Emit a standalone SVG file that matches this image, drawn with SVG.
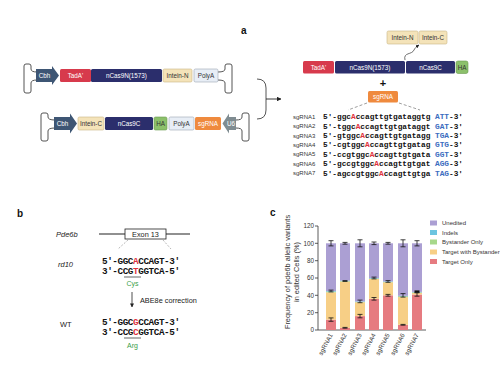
<svg xmlns="http://www.w3.org/2000/svg" width="500" height="381" viewBox="0 0 500 381">
<defs>
<style>
.sans{font-family:"Liberation Sans",Arial,sans-serif}
.lbl{font-family:"Liberation Sans",Arial,sans-serif;font-size:6.3px;text-anchor:middle}
.w{fill:#fff}
.d{fill:#333}
.navy{fill:#2b2e6c}
.red{fill:#d73a4c}
.beige{fill:#f4e3b9;stroke:#c9b585;stroke-width:0.6}
.polya{fill:#e8eef6;stroke:#9aa4b2;stroke-width:0.6}
.ha{fill:#8cc06b;stroke:#6a9a4f;stroke-width:0.6}
.sg{fill:#ef8a3e}
.cbh{fill:#3e5674}
.u6{fill:#7f8c91}
.br{fill:none;stroke:#555;stroke-width:1}
.seq{font-family:"Liberation Mono","Courier New",monospace;font-weight:bold;font-size:7.8px;fill:#111}
.seqb{font-family:"Liberation Mono","Courier New",monospace;font-weight:bold;font-size:9.3px;fill:#111}
.sgl{font-family:"Liberation Sans",Arial,sans-serif;font-size:6px;fill:#333}
.A{fill:#e0313d}
.P{fill:#3b6cc0}
.gr{fill:#3aa04a}
.panel{font-family:"Liberation Sans",Arial,sans-serif;font-weight:bold;font-size:10px;fill:#111}
.tick{font-family:"Liberation Sans",Arial,sans-serif;font-size:6.3px;fill:#333;text-anchor:end}
.ax{stroke:#333;stroke-width:0.8;fill:none}
.eb{stroke:#111;stroke-width:0.8;fill:none}
.un{fill:#ab9fd3}
.ind{fill:#6cc4e0}
.by{fill:#a7d88b}
.twb{fill:#f7cf86}
.to{fill:#e67b80}
.leg{font-family:"Liberation Sans",Arial,sans-serif;font-size:6px;fill:#333}
</style>
<marker id="ah" viewBox="0 0 10 10" refX="9" refY="5" markerWidth="5" markerHeight="5" orient="auto"><path d="M0,0 L10,5 L0,10 z" fill="#222"/></marker>
</defs>
<rect width="500" height="381" fill="#fff"/>

<text class="panel" x="241" y="34">a</text>
<text class="panel" x="17" y="217">b</text>
<text class="panel" x="270" y="216">c</text>

<!-- Construct 1 -->
<g id="construct1">
<path class="br" d="M37,72 Q31,72 31,69 V66 Q31,64 29,64 H26 Q24,64 24,66 V91 Q24,93 26,93 H29 Q31,93 31,91 V83 Q31,80 37,80"/>
<path class="br" d="M218,72 Q225,72 225,69 V66 Q225,64 227,64 H230 Q232,64 232,66 V91 Q232,93 230,93 H227 Q225,93 225,91 V83 Q225,80 218,80"/>
<polygon class="cbh" points="36,69 52,69 52,66 59,75.5 52,85 52,82 36,82"/>
<text class="lbl w" x="44.5" y="77.8">Cbh</text>
<rect class="red" x="60" y="69" width="31" height="13" rx="1.5"/>
<text class="lbl w" x="75.5" y="77.8">TadA'</text>
<rect class="navy" x="91" y="69" width="71" height="13" rx="1.5"/>
<text class="lbl w" x="126.5" y="77.8">nCas9N(1573)</text>
<rect class="beige" x="163" y="69" width="29" height="13" rx="1.5"/>
<text class="lbl d" x="177.5" y="77.8">Intein-N</text>
<rect class="polya" x="194" y="69" width="24" height="13" rx="1.5"/>
<text class="lbl d" x="206" y="77.8">PolyA</text>
</g>

<!-- Construct 2 -->
<g id="construct2">
<path class="br" d="M55,120 Q48,120 48,117 V115 Q48,113 46,113 H43 Q41,113 41,115 V139 Q41,141 43,141 H46 Q48,141 48,139 V131 Q48,128 55,128"/>
<path class="br" d="M236,120 Q242,120 242,117 V115 Q242,113 244,113 H247 Q249,113 249,115 V139 Q249,141 247,141 H244 Q242,141 242,139 V131 Q242,128 236,128"/>
<polygon class="cbh" points="54,117 70,117 70,113.5 77,123.5 70,133.5 70,130 54,130"/>
<text class="lbl w" x="62.5" y="125.8">Cbh</text>
<rect class="beige" x="78" y="117" width="26" height="13" rx="1.5"/>
<text class="lbl d" x="91" y="125.8">Intein-C</text>
<rect class="navy" x="105" y="117" width="48" height="13" rx="1.5"/>
<text class="lbl w" x="129" y="125.8">nCas9C</text>
<rect class="ha" x="154" y="117" width="13" height="13" rx="1.5"/>
<text class="lbl d" x="160.5" y="125.8">HA</text>
<rect class="polya" x="169" y="117" width="25" height="13" rx="1.5"/>
<text class="lbl d" x="181.5" y="125.8">PolyA</text>
<rect class="sg" x="195" y="117" width="26" height="13" rx="1.5"/>
<text class="lbl w" x="208" y="125.8">sgRNA</text>
<polygon class="u6" points="236,117 229,117 229,113.5 222.5,123.5 229,133.5 229,130 236,130"/>
<text class="lbl w" x="231" y="125.8">U6</text>
</g>

<!-- connectors -->
<g id="connectors">
<path class="br" d="M257,79 Q266,79 266,88 V110 Q266,119 257,119"/>
<line x1="266" y1="99" x2="281" y2="99" stroke="#222" stroke-width="0.9" marker-end="url(#ah)"/>
<path d="M405,60 C403,52 412,55 414,50 C415,48 416,47 419,45" fill="none" stroke="#333" stroke-width="0.7" marker-end="url(#ah)"/>
<path d="M367,103 L348,110 M399,103 L420,110" stroke="#777" stroke-width="0.7" stroke-dasharray="3,2" fill="none"/>
<path d="M128,240 L118,249 M163,240 L171,249" stroke="#888" stroke-width="0.6" stroke-dasharray="2,1.5" fill="none"/>
<line x1="132" y1="292" x2="132" y2="307" stroke="#222" stroke-width="0.8" marker-end="url(#ah)"/>
</g>

<!-- Fusion protein -->
<g id="fusion">
<rect class="beige" x="387" y="31" width="31" height="13" rx="1.5"/>
<text class="lbl d" x="402.5" y="39.8">Intein-N</text>
<rect class="beige" x="419" y="31" width="28" height="13" rx="1.5"/>
<text class="lbl d" x="433" y="39.8">Intein-C</text>
<rect class="red" x="303" y="61" width="31" height="12.5" rx="1.5"/>
<text class="lbl w" x="318.5" y="69.5">TadA'</text>
<rect class="navy" x="335" y="61" width="70" height="12.5" rx="1.5"/>
<text class="lbl w" x="370" y="69.5">nCas9N(1573)</text>
<rect class="navy" x="406" y="61" width="49" height="12.5" rx="1.5"/>
<text class="lbl w" x="430.5" y="69.5">nCas9C</text>
<rect class="ha" x="456" y="61" width="12" height="12.5" rx="2"/>
<text class="lbl d" x="462" y="69.5">HA</text>
<text class="sans" x="383" y="87" font-size="11" font-weight="bold" text-anchor="middle" fill="#111">+</text>
<rect class="sg" x="368" y="91" width="30" height="11.5" rx="1.5"/>
<text class="lbl w" x="383" y="99">sgRNA</text>
</g>

<!-- sgRNA sequences -->
<g id="sequences">
<text class="sgl" x="293" y="118.5">sgRNA1</text>
<text class="seq" x="323" y="119" textLength="140" lengthAdjust="spacing">5′-ggc<tspan class="A">A</tspan>ccagttgtgataggtg <tspan class="P">ATT</tspan>-3′</text>
<text class="sgl" x="293" y="128">sgRNA2</text>
<text class="seq" x="323" y="128.5" textLength="140" lengthAdjust="spacing">5′-tggc<tspan class="A">A</tspan>ccagttgtgataggt <tspan class="P">GAT</tspan>-3′</text>
<text class="sgl" x="293" y="137.5">sgRNA3</text>
<text class="seq" x="323" y="138" textLength="140" lengthAdjust="spacing">5′-gtggc<tspan class="A">A</tspan>ccagttgtgatagg <tspan class="P">TGA</tspan>-3′</text>
<text class="sgl" x="293" y="146.5">sgRNA4</text>
<text class="seq" x="323" y="147" textLength="140" lengthAdjust="spacing">5′-cgtggc<tspan class="A">A</tspan>ccagttgtgatag <tspan class="P">GTG</tspan>-3′</text>
<text class="sgl" x="293" y="156">sgRNA5</text>
<text class="seq" x="323" y="156.5" textLength="140" lengthAdjust="spacing">5′-ccgtggc<tspan class="A">A</tspan>ccagttgtgata <tspan class="P">GGT</tspan>-3′</text>
<text class="sgl" x="293" y="165.5">sgRNA6</text>
<text class="seq" x="323" y="166" textLength="140" lengthAdjust="spacing">5′-gccgtggc<tspan class="A">A</tspan>ccagttgtgat <tspan class="P">AGG</tspan>-3′</text>
<text class="sgl" x="293" y="175">sgRNA7</text>
<text class="seq" x="323" y="175.5" textLength="140" lengthAdjust="spacing">5′-agccgtggc<tspan class="A">A</tspan>ccagttgtga <tspan class="P">TAG</tspan>-3′</text>
</g>

<!-- Panel b -->
<g id="panelb">
<text class="sans" x="56" y="237" font-size="7.5" font-style="italic" fill="#222">Pde6b</text>
<line x1="99" y1="234" x2="190" y2="234" stroke="#222" stroke-width="1.2"/>
<rect x="125" y="229" width="41" height="10" fill="#fff" stroke="#222" stroke-width="0.8"/>
<text class="sans" x="145.5" y="236.8" font-size="7.3" text-anchor="middle" fill="#222">Exon 13</text>
<text class="sans" x="58" y="267" font-size="7.5" font-style="italic" fill="#222">rd10</text>
<text class="seqb" x="102" y="264" textLength="78" lengthAdjust="spacing">5′-GGC<tspan class="A">A</tspan>CCAGT-3′</text>
<text class="seqb" x="102" y="274" textLength="78" lengthAdjust="spacing">3′-CCG<tspan class="A">T</tspan>GGTCA-5′</text>
<line x1="124" y1="277" x2="141" y2="277" stroke="#222" stroke-width="0.7"/>
<text class="sans gr" x="132.5" y="286" font-size="7" text-anchor="middle">Cys</text>
<text class="sans" x="140" y="302.5" font-size="7.3" fill="#222">ABE8e correction</text>
<text class="sans" x="60" y="327" font-size="7.5" fill="#222">WT</text>
<text class="seqb" x="102" y="325" textLength="78" lengthAdjust="spacing">5′-GGC<tspan class="A">G</tspan>CCAGT-3′</text>
<text class="seqb" x="102" y="335" textLength="78" lengthAdjust="spacing">3′-CCG<tspan class="A">C</tspan>GGTCA-5′</text>
<line x1="124" y1="338" x2="141" y2="338" stroke="#222" stroke-width="0.7"/>
<text class="sans gr" x="132.5" y="347.5" font-size="7" text-anchor="middle">Arg</text>
</g>

<!-- Panel c chart -->
<g id="chart">
<text class="sans" transform="translate(290,272) rotate(-90)" font-size="7.4" text-anchor="middle" fill="#333">Frequency of pde6b allelic variants</text>
<text class="sans" transform="translate(299,272) rotate(-90)" font-size="7.4" text-anchor="middle" fill="#333">in edited Cells (%)</text>
<path class="ax" d="M318,226 V330 H426 M315,226 H318 M315,243.3 H318 M315,260.7 H318 M315,278 H318 M315,295.3 H318 M315,312.7 H318 M315,330 H318"/>
<text class="tick" x="314" y="228.3">120</text>
<text class="tick" x="314" y="245.6">100</text>
<text class="tick" x="314" y="263">80</text>
<text class="tick" x="314" y="280.3">60</text>
<text class="tick" x="314" y="297.6">40</text>
<text class="tick" x="314" y="315">20</text>
<text class="tick" x="314" y="332.3">0</text>

<g id="bar1">
<rect class="to" x="326" y="319.6" width="10" height="10.4"/>
<rect class="twb" x="326" y="292.3" width="10" height="27.3"/>
<rect class="by" x="326" y="291.4" width="10" height="0.9"/>
<rect class="ind" x="326" y="291" width="10" height="0.5"/>
<rect class="un" x="326" y="243.3" width="10" height="47.7"/>
</g>
<g id="bar2">
<rect class="to" x="340" y="327.8" width="10" height="2.2"/>
<rect class="twb" x="340" y="281.5" width="10" height="46.3"/>
<rect class="by" x="340" y="281" width="10" height="0.5"/>
<rect class="ind" x="340" y="280.6" width="10" height="0.5"/>
<rect class="un" x="340" y="243.3" width="10" height="37.3"/>
</g>
<g id="bar3">
<rect class="to" x="355" y="316.1" width="10" height="13.9"/>
<rect class="twb" x="355" y="302.3" width="10" height="13.8"/>
<rect class="by" x="355" y="301.8" width="10" height="0.5"/>
<rect class="ind" x="355" y="301.4" width="10" height="0.5"/>
<rect class="un" x="355" y="243.3" width="10" height="58.1"/>
</g>
<g id="bar4">
<rect class="to" x="369" y="298.8" width="10" height="31.2"/>
<rect class="twb" x="369" y="278.9" width="10" height="19.9"/>
<rect class="by" x="369" y="278.4" width="10" height="0.5"/>
<rect class="ind" x="369" y="278" width="10" height="0.5"/>
<rect class="un" x="369" y="243.3" width="10" height="34.7"/>
</g>
<g id="bar5">
<rect class="to" x="383" y="295.3" width="10" height="34.7"/>
<rect class="twb" x="383" y="282.3" width="10" height="13"/>
<rect class="by" x="383" y="281.8" width="10" height="0.5"/>
<rect class="ind" x="383" y="281.4" width="10" height="0.5"/>
<rect class="un" x="383" y="243.3" width="10" height="38.1"/>
</g>
<g id="bar6">
<rect class="to" x="398" y="324.8" width="10" height="5.2"/>
<rect class="twb" x="398" y="297.1" width="10" height="27.7"/>
<rect class="by" x="398" y="296.2" width="10" height="0.9"/>
<rect class="ind" x="398" y="295.8" width="10" height="0.5"/>
<rect class="un" x="398" y="243.3" width="10" height="52.5"/>
</g>
<g id="bar7">
<rect class="to" x="412" y="294.5" width="10" height="35.5"/>
<rect class="twb" x="412" y="292.7" width="10" height="1.8"/>
<rect class="by" x="412" y="292.3" width="10" height="0.5"/>
<rect class="ind" x="412" y="291.9" width="10" height="0.5"/>
<rect class="un" x="412" y="243.3" width="10" height="48.6"/>
</g>

<path class="eb" d="
M331,240.7 V245.9 M328.5,240.7 H333.5 M328.5,245.9 H333.5
M331,290.1 V291.9 M328.5,290.1 H333.5 M328.5,291.9 H333.5
M331,317.9 V321.3 M328.5,317.9 H333.5 M328.5,321.3 H333.5
M345,242.4 V244.2 M342.5,242.4 H347.5 M342.5,244.2 H347.5
M345,327.4 V328.2 M342.5,327.4 H347.5 M342.5,328.2 H347.5
M360,239.8 V246.8 M357.5,239.8 H362.5 M357.5,246.8 H362.5
M360,300.1 V302.7 M357.5,300.1 H362.5 M357.5,302.7 H362.5
M360,314.4 V317.8 M357.5,314.4 H362.5 M357.5,317.8 H362.5
M374,242 V244.6 M371.5,242 H376.5 M371.5,244.6 H376.5
M374,277.1 V278.9 M371.5,277.1 H376.5 M371.5,278.9 H376.5
M374,297.5 V300.1 M371.5,297.5 H376.5 M371.5,300.1 H376.5
M388,242.4 V244.2 M385.5,242.4 H390.5 M385.5,244.2 H390.5
M388,280.6 V282.3 M385.5,280.6 H390.5 M385.5,282.3 H390.5
M388,294.4 V296.2 M385.5,294.4 H390.5 M385.5,296.2 H390.5
M403,239.8 V246.8 M400.5,239.8 H405.5 M400.5,246.8 H405.5
M403,293.6 V297.1 M400.5,293.6 H405.5 M400.5,297.1 H405.5
M403,324.4 V325.2 M400.5,324.4 H405.5 M400.5,325.2 H405.5
M417,240.7 V245.9 M414.5,240.7 H419.5 M414.5,245.9 H419.5
M417,292.8 V296.2 M414.5,292.8 H419.5 M414.5,296.2 H419.5"/>
<rect x="342.5" y="280.2" width="5" height="1.6" fill="#111"/>
<rect x="414.5" y="290.4" width="5" height="2.4" fill="#111"/>

<text class="tick" transform="translate(333,335) rotate(-62)">sgRNA1</text>
<text class="tick" transform="translate(347,335) rotate(-62)">sgRNA2</text>
<text class="tick" transform="translate(362,335) rotate(-62)">sgRNA3</text>
<text class="tick" transform="translate(376,335) rotate(-62)">sgRNA4</text>
<text class="tick" transform="translate(390,335) rotate(-62)">sgRNA5</text>
<text class="tick" transform="translate(405,335) rotate(-62)">sgRNA6</text>
<text class="tick" transform="translate(419,335) rotate(-62)">sgRNA7</text>
</g>

<g id="legend">
<rect class="un" x="430" y="220.5" width="7" height="5"/>
<text class="leg" x="442" y="225">Unedited</text>
<rect class="ind" x="430" y="230" width="7" height="5"/>
<text class="leg" x="442" y="234.5">Indels</text>
<rect class="by" x="430" y="239.5" width="7" height="5"/>
<text class="leg" x="442" y="244">Bystander Only</text>
<rect class="twb" x="430" y="249.5" width="7" height="5"/>
<text class="leg" x="442" y="254">Target with Bystander</text>
<rect class="to" x="430" y="259" width="7" height="5"/>
<text class="leg" x="442" y="263.5">Target Only</text>
</g>
</svg>
